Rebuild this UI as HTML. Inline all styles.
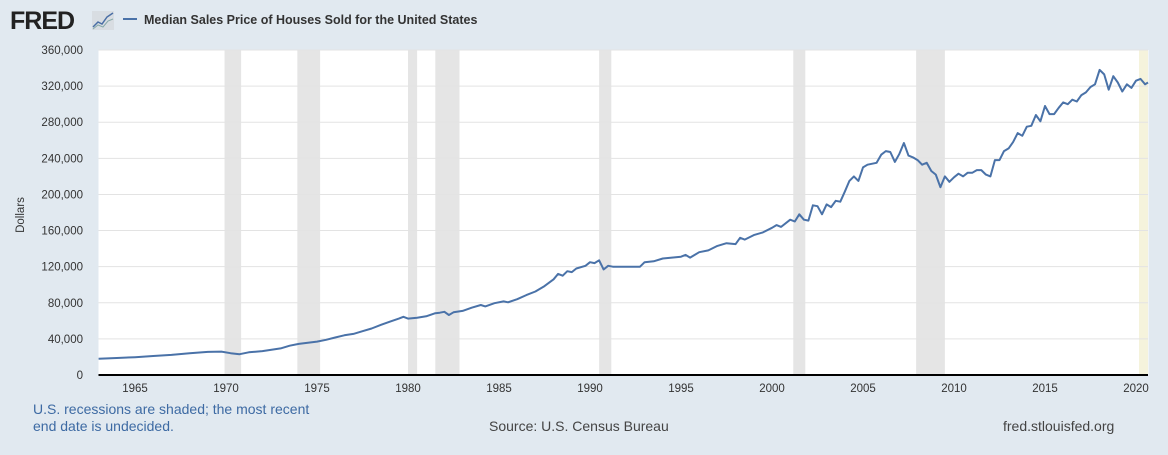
<!DOCTYPE html>
<html><head><meta charset="utf-8"><style>
body{margin:0;width:1168px;height:450px;background:#e1e9f0;font-family:"Liberation Sans",Arial,sans-serif;overflow:hidden}
</style></head><body>
<svg width="1168" height="450" xmlns="http://www.w3.org/2000/svg" id="s">
<rect width="1168" height="450" fill="#e1e9f0"/>
<text x="10" y="29" font-size="25" font-weight="bold" fill="#222" letter-spacing="-1">FRED</text>
<rect x="92" y="11" width="22" height="19" fill="#d8dde2"/>
<polyline points="93,27 98,22 102,24 107,17 113,13" fill="none" stroke="#4a6fa5" stroke-width="1.5"/>
<polyline points="93,29 98,25 103,27 108,21 113,19" fill="none" stroke="#8aa" stroke-width="1"/>
<line x1="123" y1="19" x2="137" y2="19" stroke="#4a72a8" stroke-width="2"/>
<text x="144" y="24" font-size="12.5" font-weight="bold" fill="#333">Median Sales Price of Houses Sold for the United States</text>
<rect x="98.5" y="50" width="1050" height="325" fill="#fff"/>
<g id="rec"></g>
<g id="grid"></g>
<path id="line" fill="none" stroke="#4a72a8" stroke-width="2" stroke-linejoin="round"/>
<line x1="98.5" y1="375" x2="1148" y2="375" stroke="#000" stroke-width="2"/>
<g id="ylab" font-size="11.5" fill="#333" text-anchor="end"></g>
<g id="xlab" font-size="11.5" fill="#333" text-anchor="middle"></g>
<text transform="translate(24,215) rotate(-90)" font-size="11.5" fill="#333" text-anchor="middle">Dollars</text>
<text x="33" y="414" font-size="14" fill="#3d6aa3">U.S. recessions are shaded; the most recent</text>
<text x="33" y="431" font-size="14" fill="#3d6aa3">end date is undecided.</text>
<text x="489" y="431" font-size="14" fill="#444">Source: U.S. Census Bureau</text>
<text x="1003" y="431" font-size="14" fill="#444">fred.stlouisfed.org</text>
</svg>
<script>
var NS="http://www.w3.org/2000/svg";
function X(t){return 135+(t-1965)*18.2}
function Y(v){return 375-v/360000*325}
function el(n,a,p){var e=document.createElementNS(NS,n);for(var k in a)e.setAttribute(k,a[k]);document.getElementById(p).appendChild(e);return e}
var rec=[[1969.92,1970.83],[1973.92,1975.17],[1980.0,1980.5],[1981.5,1982.83],[1990.5,1991.17],[2001.17,2001.83],[2007.92,2009.5]];
rec.forEach(function(r){el("rect",{x:X(r[0]),y:50,width:X(r[1])-X(r[0]),height:325,fill:"#e5e5e5"},"rec")});
el("rect",{x:1139,y:50,width:9,height:325,fill:"#f5f3dc"},"rec");
for(var i=0;i<=9;i++){var y=Y(i*40000);
 if(i>0)el("line",{x1:98.5,x2:1148,y1:y,y2:y,stroke:"#e3e3e3","stroke-width":1},"grid");
 var t=el("text",{x:83,y:y+4},"ylab");t.textContent=i==0?"0":(i*40)+",000";}
for(var yr=1965;yr<=2020;yr+=5){var t=el("text",{x:X(yr),y:392},"xlab");t.textContent=yr;}
var d=[1963,18000,1964,18800,1965,19700,1966,21000,1967,22300,1968,24000,1969,25600,1969.75,25900,1970.25,24200,1970.75,23000,1971.25,25200,1972,26500,1973,29500,1973.5,32500,1974,34500,1975,37000,1975.5,39000,1976,41500,1976.5,44000,1977,45500,1977.5,48500,1978,51500,1978.5,55500,1979,59000,1979.5,62500,1979.75,64500,1980,62500,1980.5,63500,1981,65000,1981.5,68500,1981.75,69000,1982,70000,1982.25,66500,1982.5,69500,1983,71000,1983.5,74500,1984,77500,1984.25,76000,1984.75,79500,1985.25,81500,1985.5,80500,1986,84000,1986.5,88500,1987,92500,1987.5,98500,1988,106000,1988.25,112000,1988.5,110000,1988.75,115000,1989,114000,1989.25,118000,1989.75,121000,1990,125000,1990.25,124000,1990.5,127000,1990.75,117000,1991,121000,1991.25,120000,1992,120000,1992.75,120000,1993,125000,1993.5,126000,1994,129000,1994.5,130000,1995,131000,1995.25,133000,1995.5,130000,1996,136000,1996.5,138000,1997,143000,1997.5,146000,1998,145000,1998.25,152000,1998.5,150000,1999,155000,1999.5,158000,2000,163000,2000.25,166000,2000.5,164000,2001,172000,2001.25,170000,2001.5,178000,2001.75,172000,2002,171000,2002.25,188000,2002.5,187000,2002.75,178000,2003,189000,2003.25,186000,2003.5,193000,2003.75,192000,2004,203000,2004.25,215000,2004.5,220000,2004.75,215000,2005,230000,2005.25,233000,2005.75,235000,2006,244000,2006.25,248000,2006.5,247000,2006.75,236000,2007,245000,2007.25,257000,2007.5,243000,2007.75,241000,2008,238000,2008.25,233000,2008.5,235000,2008.75,226000,2009,222000,2009.25,208000,2009.5,220000,2009.75,214000,2010,219000,2010.25,223000,2010.5,220000,2010.75,224000,2011,224000,2011.25,227000,2011.5,227000,2011.75,222000,2012,220000,2012.25,238000,2012.5,238000,2012.75,248000,2013,251000,2013.25,258000,2013.5,268000,2013.75,265000,2014,275000,2014.25,276000,2014.5,288000,2014.75,281000,2015,298000,2015.25,289000,2015.5,289000,2015.75,296000,2016,302000,2016.25,300000,2016.5,305000,2016.75,303000,2017,310000,2017.25,313000,2017.5,319000,2017.75,322000,2018,338000,2018.25,333000,2018.5,316000,2018.75,331000,2019,324000,2019.25,314000,2019.5,322000,2019.75,318000,2020,326000,2020.25,328000,2020.5,322000,2020.66,324000];
var p="";for(var i=0;i<d.length;i+=2){p+=(i?"L":"M")+X(d[i]).toFixed(1)+","+Y(d[i+1]).toFixed(1);}
document.getElementById("line").setAttribute("d",p);
</script>
</body></html>
